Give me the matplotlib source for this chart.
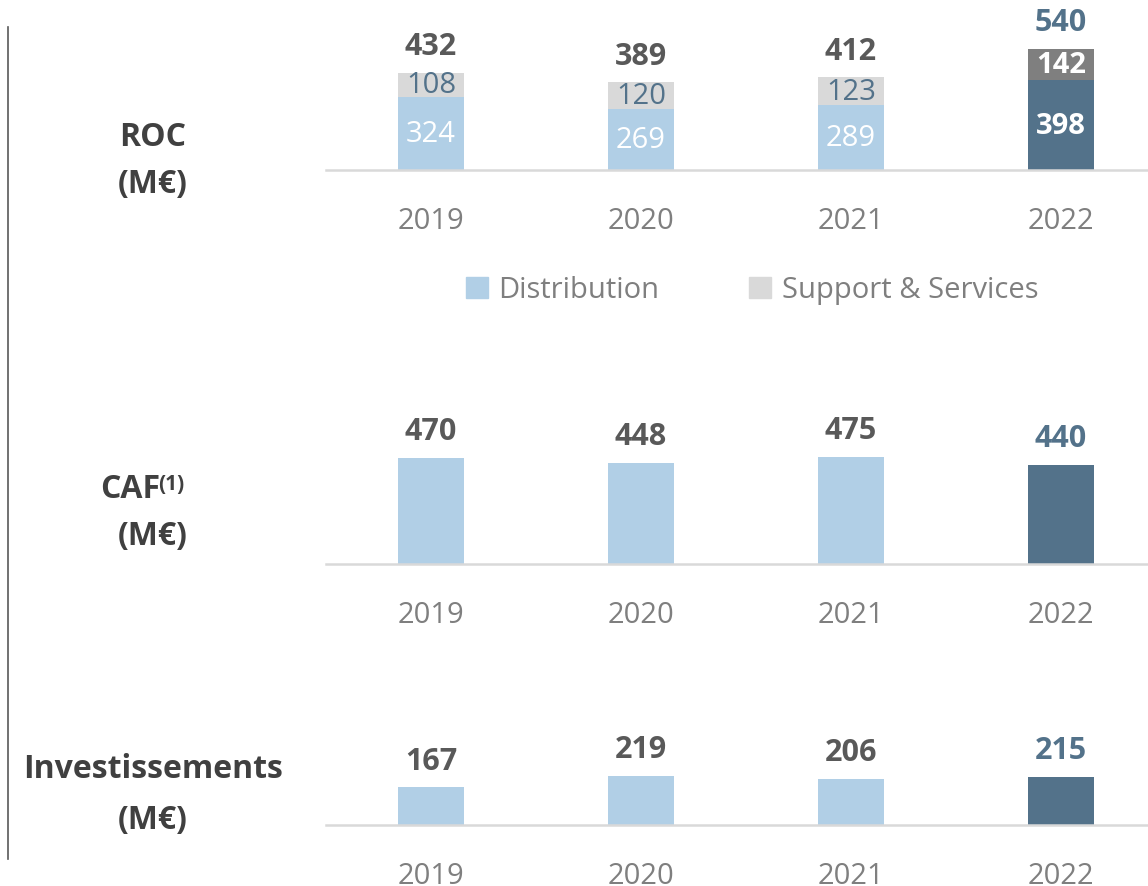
import matplotlib
matplotlib.use('Agg')
import matplotlib.pyplot as plt
from matplotlib.lines import Line2D
from matplotlib.patches import Patch

plt.rcParams['font.family'] = ['Open Sans', 'DejaVu Sans']

# Data
years = ['2019', '2020', '2021', '2022']
roc_distribution = [324, 269, 289, 398]
roc_support = [108, 120, 123, 142]
roc_total = [432, 389, 412, 540]
caf = [470, 448, 475, 440]
investissements = [167, 219, 206, 215]

# Colours
LIGHT_BLUE = '#b1cfe6'
LIGHT_GREY = '#d9d9d9'
DARK_BLUE = '#53728a'
DARK_GREY = '#7f7f7f'
TOTAL_GREY = '#595959'
YEAR_GREY = '#7f7f7f'
LABEL_DARK = '#404040'

W, H = 1148, 887
SCALE = 0.225  # pixels per M€
BAR_W = 66 / 210

fig = plt.figure(figsize=(W / 100, H / 100), dpi=100)


def make_axes(baseline_px, top_px):
    """Axes whose bottom spine sits at baseline_px (pixels from top)"""
    left = 326 / W
    ax = fig.add_axes([left, 1 - baseline_px / H, 1 - left, (baseline_px - top_px) / H])
    ax.set_xlim(-0.5, (W - 431) / 210)
    ax.set_ylim(0, (baseline_px - top_px) / SCALE)
    for s in ['top', 'right', 'left']:
        ax.spines[s].set_visible(False)
    ax.spines['bottom'].set_color(LIGHT_GREY)
    ax.spines['bottom'].set_linewidth(1.8)
    ax.set_yticks([])
    ax.set_xticks(range(len(years)))
    ax.set_xticklabels(years)
    ax.tick_params(axis='x', length=0, pad=26, labelsize=21, labelcolor=YEAR_GREY)
    return ax


def total_labels(ax, values):
    for i, v in enumerate(values):
        color = DARK_BLUE if i == len(values) - 1 else TOTAL_GREY
        ax.annotate(str(v), (i, v), xytext=(0, 13.5), textcoords='offset points',
                    ha='center', va='baseline', fontsize=22, fontweight='bold', color=color)


def simple_bars(ax, values):
    colors = [LIGHT_BLUE] * (len(values) - 1) + [DARK_BLUE]
    ax.bar(range(len(values)), values, width=BAR_W, color=colors)
    total_labels(ax, values)


# ROC stacked panel
ax1 = make_axes(171, 0)
dist_colors = [LIGHT_BLUE] * 3 + [DARK_BLUE]
supp_colors = [LIGHT_GREY] * 3 + [DARK_GREY]
ax1.bar(range(4), roc_distribution, width=BAR_W, color=dist_colors)
ax1.bar(range(4), roc_support, bottom=roc_distribution, width=BAR_W, color=supp_colors)
for i in range(4):
    last = i == 3
    ax1.text(i, roc_distribution[i] / 2, str(roc_distribution[i]), ha='center', va='center',
             fontsize=21, color='white', fontweight='bold' if last else 'normal')
    ax1.text(i, roc_distribution[i] + roc_support[i] / 2, str(roc_support[i]),
             ha='center', va='center', fontsize=21,
             color='white' if last else DARK_BLUE, fontweight='bold' if last else 'normal')
total_labels(ax1, roc_total)

# Legend
handles = [Patch(color=LIGHT_BLUE, label='Distribution'),
           Patch(color=LIGHT_GREY, label='Support & Services')]
fig.legend(handles=handles, loc='center', bbox_to_anchor=(752 / W, 1 - 291 / H), ncol=2,
           frameon=False, fontsize=21, labelcolor=YEAR_GREY, handlelength=0.75,
           handleheight=0.75, handletextpad=0.35, columnspacing=3.1)

# CAF panel
ax2 = make_axes(565, 380)
simple_bars(ax2, caf)

# Investissements panel
ax3 = make_axes(826, 700)
simple_bars(ax3, investissements)

# Left labels
lab = dict(ha='center', va='center', fontsize=23, fontweight='bold', color=LABEL_DARK)
fig.text(153 / W, 1 - 138 / H, 'ROC', **lab)
fig.text(153 / W, 1 - 184 / H, '(M€)', **lab)
fig.text(130 / W, 1 - 490 / H, 'CAF', **lab)
fig.text(158 / W, 1 - 485 / H, '(1)', ha='left', va='center', fontsize=15,
         fontweight='bold', color=LABEL_DARK)
fig.text(153 / W, 1 - 536 / H, '(M€)', **lab)
fig.text(153 / W, 1 - 770 / H, 'Investissements', **lab)
fig.text(153 / W, 1 - 820 / H, '(M€)', **lab)

# Vertical separator
fig.add_artist(Line2D([8 / W, 8 / W], [1 - 28 / H, 1 - 860 / H], color='#595959', lw=1.2))

fig.savefig('out.png', dpi=100)
